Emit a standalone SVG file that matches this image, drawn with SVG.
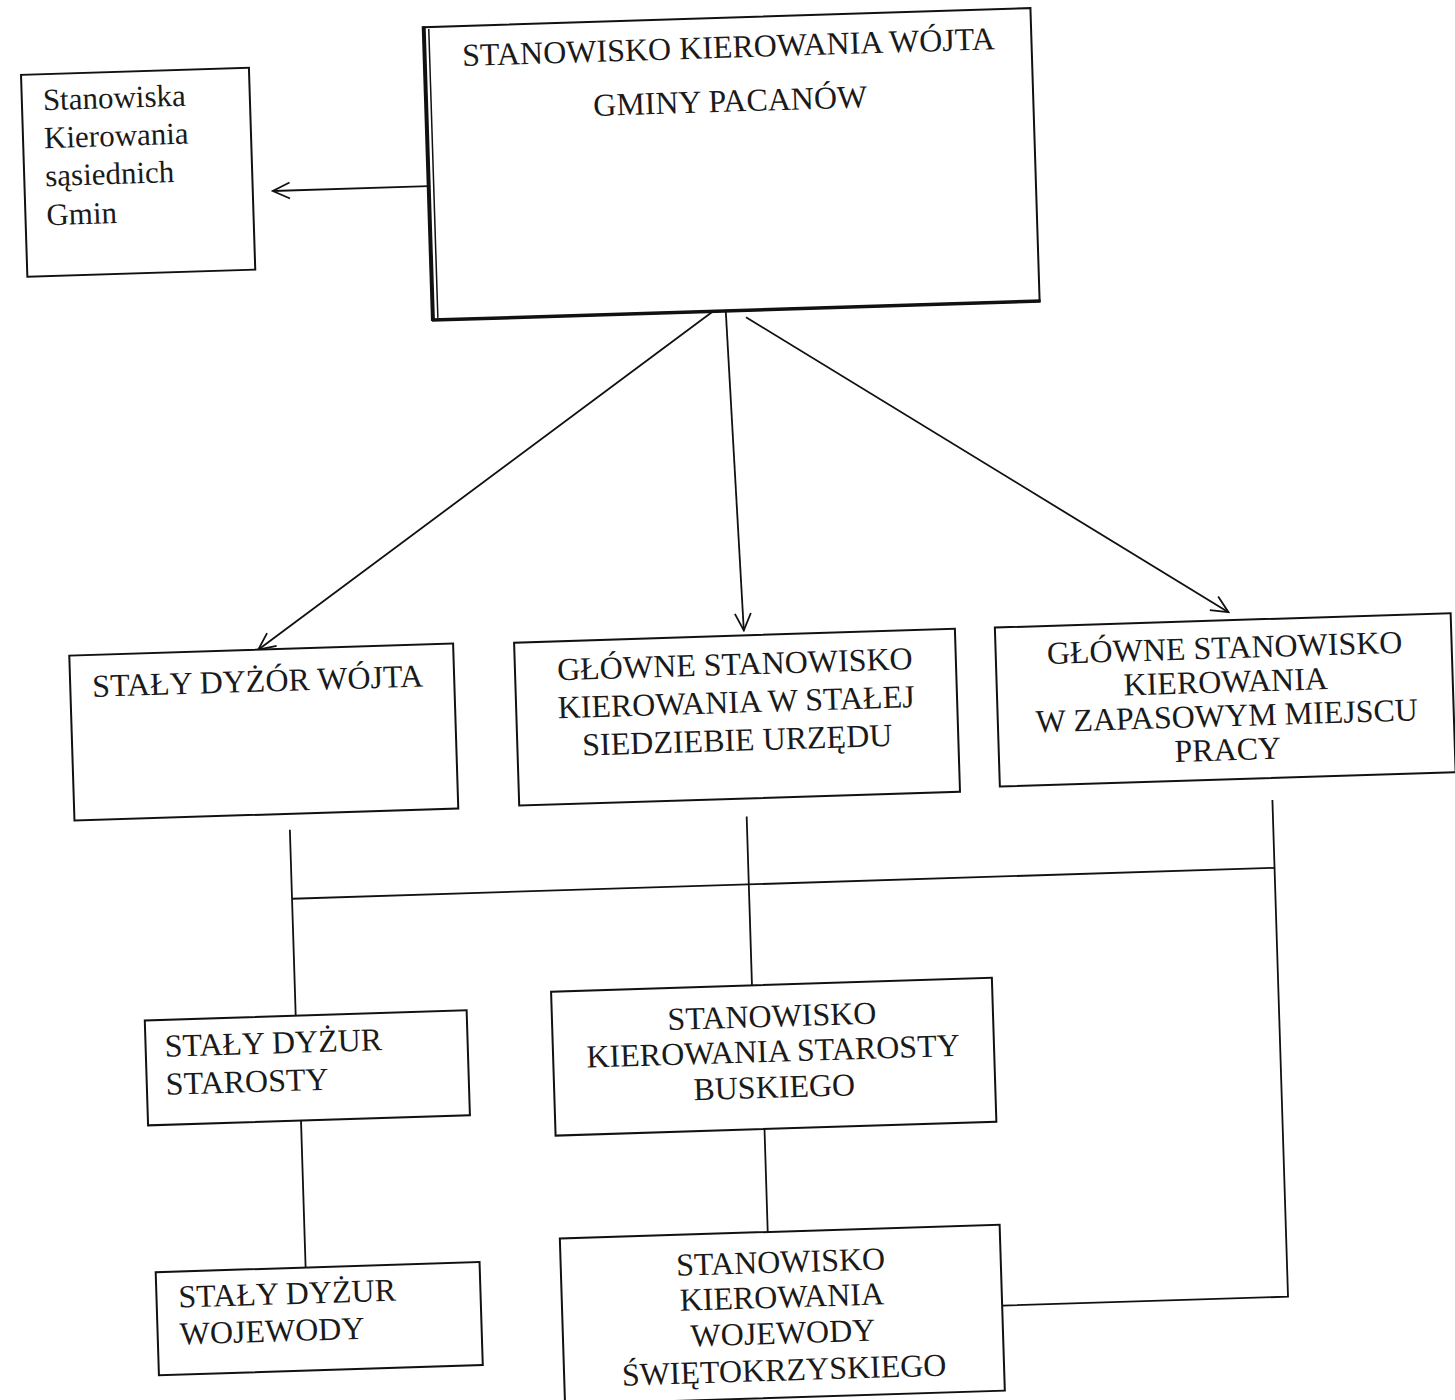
<svg xmlns="http://www.w3.org/2000/svg" width="1455" height="1400" viewBox="0 0 1455 1400">
<style>
.box{fill:#fff;stroke:#111;stroke-width:2}
.t{font-family:"Liberation Serif","Times New Roman",serif;font-size:32px;fill:#1a1a1a}
.c{text-anchor:middle}
.s{font-size:31px}
.ln{fill:none;stroke:#111;stroke-width:1.8}
</style>
<defs>
<marker id="ah" viewBox="0 0 20 20" refX="18" refY="10" markerWidth="20" markerHeight="20" markerUnits="userSpaceOnUse" orient="auto">
<path d="M1,2 L18,10 L1,18" fill="none" stroke="#111" stroke-width="1.8"/>
</marker>
</defs>
<rect width="1455" height="1400" fill="#fff"/>
<g transform="rotate(-1.8 727 700)">
<g id="connectors">
<line class="ln" x1="445" y1="177" x2="289" y2="177" marker-end="url(#ah)"/>
<line class="ln" x1="724" y1="312" x2="260" y2="635" marker-end="url(#ah)"/>
<line class="ln" x1="738" y1="312" x2="746" y2="631" marker-end="url(#ah)"/>
<line class="ln" x1="758" y1="318" x2="1231" y2="628" marker-end="url(#ah)"/>
<line class="ln" x1="286" y1="816" x2="286" y2="1002"/>
<line class="ln" x1="286" y1="885" x2="1269" y2="885"/>
<line class="ln" x1="743" y1="817" x2="743" y2="986"/>
<polyline class="ln" points="1269,817 1269,1314 983,1314"/>
<line class="ln" x1="751" y1="1130" x2="751" y2="1233"/>
<line class="ln" x1="288" y1="1107" x2="288" y2="1254"/>
</g>
<g id="n-wojt">
<rect class="box" x="445" y="18" width="607" height="293" stroke-width="2.5"/>
<line x1="445" y1="17" x2="445" y2="312" stroke="#111" stroke-width="4"/>
<line x1="450" y1="20" x2="450" y2="309" stroke="#111" stroke-width="1.5"/>
<line x1="444" y1="311" x2="1053" y2="311" stroke="#111" stroke-width="3.5"/>
<text class="t c" x="749" y="58">STANOWISKO KIEROWANIA WÓJTA</text>
<text class="t c" x="749" y="112">GMINY PACANÓW</text>
</g>
<g id="n-sasiednie">
<rect class="box" x="41" y="53" width="228" height="202"/>
<text class="t s" x="62" y="89">Stanowiska</text>
<text class="t s" x="62" y="127">Kierowania</text>
<text class="t s" x="62" y="165">sąsiednich</text>
<text class="t s" x="62" y="204">Gmin</text>
</g>
<g id="n-dyzur-wojta">
<rect class="box" x="71" y="635" width="384" height="165"/>
<text class="t" x="93" y="677">STAŁY DYŻÓR WÓJTA</text>
</g>
<g id="n-glowne-stale">
<rect class="box" x="516" y="636" width="441" height="163"/>
<text class="t c" x="736" y="675">GŁÓWNE STANOWISKO</text>
<text class="t c" x="736" y="713">KIEROWANIA W STAŁEJ</text>
<text class="t c" x="736" y="751">SIEDZIEBIE URZĘDU</text>
</g>
<g id="n-glowne-zapas">
<rect class="box" x="997" y="636" width="456" height="159"/>
<text class="t c" x="1226" y="674">GŁÓWNE STANOWISKO</text>
<text class="t c" x="1226" y="708">KIEROWANIA</text>
<text class="t c" x="1226" y="742">W ZAPASOWYM MIEJSCU</text>
<text class="t c" x="1226" y="776">PRACY</text>
</g>
<g id="n-dyzur-starosty">
<rect class="box" x="135" y="1002" width="322" height="105"/>
<text class="t" x="154" y="1039">STAŁY DYŻUR</text>
<text class="t" x="154" y="1077">STAROSTY</text>
</g>
<g id="n-starosta-buski">
<rect class="box" x="542" y="986" width="441" height="144"/>
<text class="t c" x="762" y="1028">STANOWISKO</text>
<text class="t c" x="762" y="1063">KIEROWANIA STAROSTY</text>
<text class="t c" x="762" y="1099">BUSKIEGO</text>
</g>
<g id="n-dyzur-wojewody">
<rect class="box" x="138" y="1254" width="324" height="103"/>
<text class="t" x="160" y="1290">STAŁY DYŻUR</text>
<text class="t" x="160" y="1327">WOJEWODY</text>
</g>
<g id="n-wojewoda">
<rect class="box" x="543" y="1233" width="440" height="166"/>
<text class="t c" x="763" y="1274">STANOWISKO</text>
<text class="t c" x="763" y="1309">KIEROWANIA</text>
<text class="t c" x="763" y="1345">WOJEWODY</text>
<text class="t c" x="763" y="1382">ŚWIĘTOKRZYSKIEGO</text>
</g>
</g>
</svg>
